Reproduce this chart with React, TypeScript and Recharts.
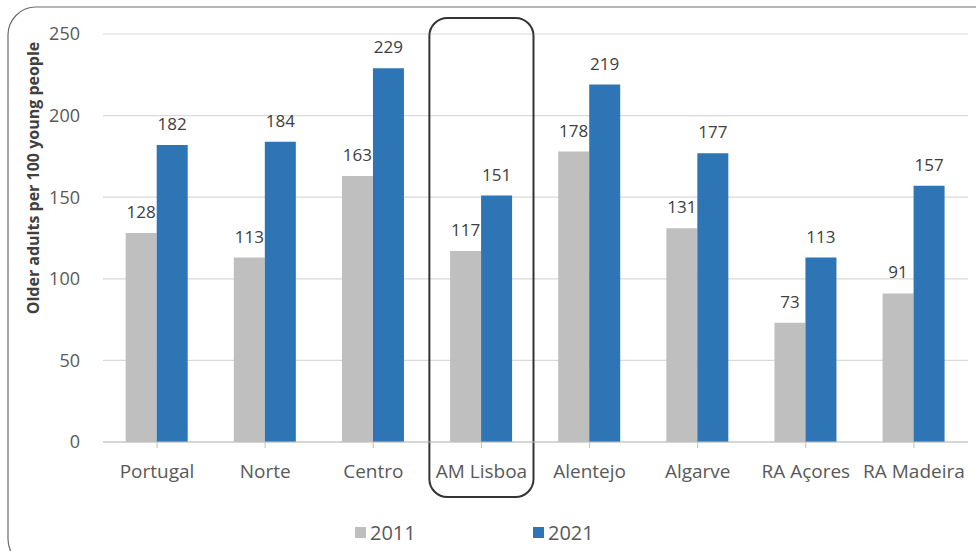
import React from "react";
import {
  BarChart,
  Bar,
  XAxis,
  YAxis,
  CartesianGrid,
  Legend,
  LabelList,
  ReferenceArea,
} from "recharts";

const regions = [
  "Portugal",
  "Norte",
  "Centro",
  "AM Lisboa",
  "Alentejo",
  "Algarve",
  "RA Açores",
  "RA Madeira",
];
const values2011 = [128, 113, 163, 117, 178, 131, 73, 91];
const values2021 = [182, 184, 229, 151, 219, 177, 113, 157];
const yTicks = [0, 50, 100, 150, 200, 250];
const highlighted = "AM Lisboa";

const FONT = "'Open Sans', sans-serif";
const GREY = "#bfbfbf";
const BLUE = "#2e75b6";

const data = regions.map((region, i) => ({
  region,
  y2011: values2011[i],
  y2021: values2021[i],
}));

// rounded box drawn around the highlighted region, reaching down past its label
const HighlightBox = (props: any) => {
  const { x, y, width, height } = props;
  return (
    <rect
      x={x + 2}
      y={y - 16}
      width={width - 4}
      height={height + 71}
      rx={18}
      ry={18}
      fill="none"
      stroke="#333333"
      strokeWidth={2}
    />
  );
};

const AxisTitle = () => (
  <text
    x={33}
    y={178}
    transform="rotate(-90, 33, 178)"
    textAnchor="middle"
    dominantBaseline="central"
    fill="#404040"
    fontSize={16}
    fontWeight={700}
    fontFamily={FONT}
  >
    Older adults per 100 young people
  </text>
);

const LegendContent = () => (
  <div style={{ position: "relative", height: 24, fontFamily: FONT, fontSize: 20, color: "#595959" }}>
    {[
      { name: "2011", color: GREY, left: 355 },
      { name: "2021", color: BLUE, left: 533 },
    ].map((item) => (
      <div key={item.name} style={{ position: "absolute", left: item.left, top: 0, display: "flex", alignItems: "center", height: 24 }}>
        <span style={{ display: "inline-block", width: 11, height: 11, background: item.color, marginRight: 4 }} />
        <span>{item.name}</span>
      </div>
    ))}
  </div>
);

const labelStyle = { fill: "#404040", fontSize: 17, fontFamily: FONT };

export default function App() {
  return (
    <div style={{ position: "absolute", left: 0, top: 0, width: 976, height: 551, background: "#fff" }}>
      <svg width={976} height={551} style={{ position: "absolute", left: 0, top: 0 }}>
        <rect x={8} y={7} width={1000} height={560} rx={28} ry={28} fill="none" stroke="#6b6b6b" strokeWidth={1.2} />
      </svg>
      <BarChart
        width={976}
        height={551}
        data={data}
        margin={{ top: 34, right: 8, bottom: 7, left: 0 }}
        barCategoryGap="21%"
        barGap={0}
        style={{ position: "absolute", left: 0, top: 0 }}
      >
        <CartesianGrid vertical={false} stroke="#d9d9d9" strokeWidth={1.2} />
        <XAxis
          dataKey="region"
          height={78}
          tickLine={{ stroke: "#bfbfbf" }}
          tickSize={6}
          axisLine={{ stroke: "#bfbfbf", strokeWidth: 1.2 }}
          interval={0}
          tick={{ fill: "#595959", fontSize: 19, fontFamily: FONT }}
          tickMargin={17}
        />
        <YAxis
          width={103}
          domain={[0, 250]}
          ticks={yTicks}
          axisLine={false}
          tickLine={false}
          tickSize={0}
          tickMargin={23}
          tick={{ fill: "#595959", fontSize: 18, fontFamily: FONT }}
          label={<AxisTitle />}
        />
        <Legend verticalAlign="bottom" content={<LegendContent />} />
        <Bar dataKey="y2011" name="2011" fill={GREY} isAnimationActive={false}>
          <LabelList dataKey="y2011" position="top" offset={15} style={labelStyle} />
        </Bar>
        <Bar dataKey="y2021" name="2021" fill={BLUE} isAnimationActive={false}>
          <LabelList dataKey="y2021" position="top" offset={15} style={labelStyle} />
        </Bar>
        <ReferenceArea x1={highlighted} x2={highlighted} ifOverflow="visible" fill="none" shape={<HighlightBox />} />
      </BarChart>
    </div>
  );
}
